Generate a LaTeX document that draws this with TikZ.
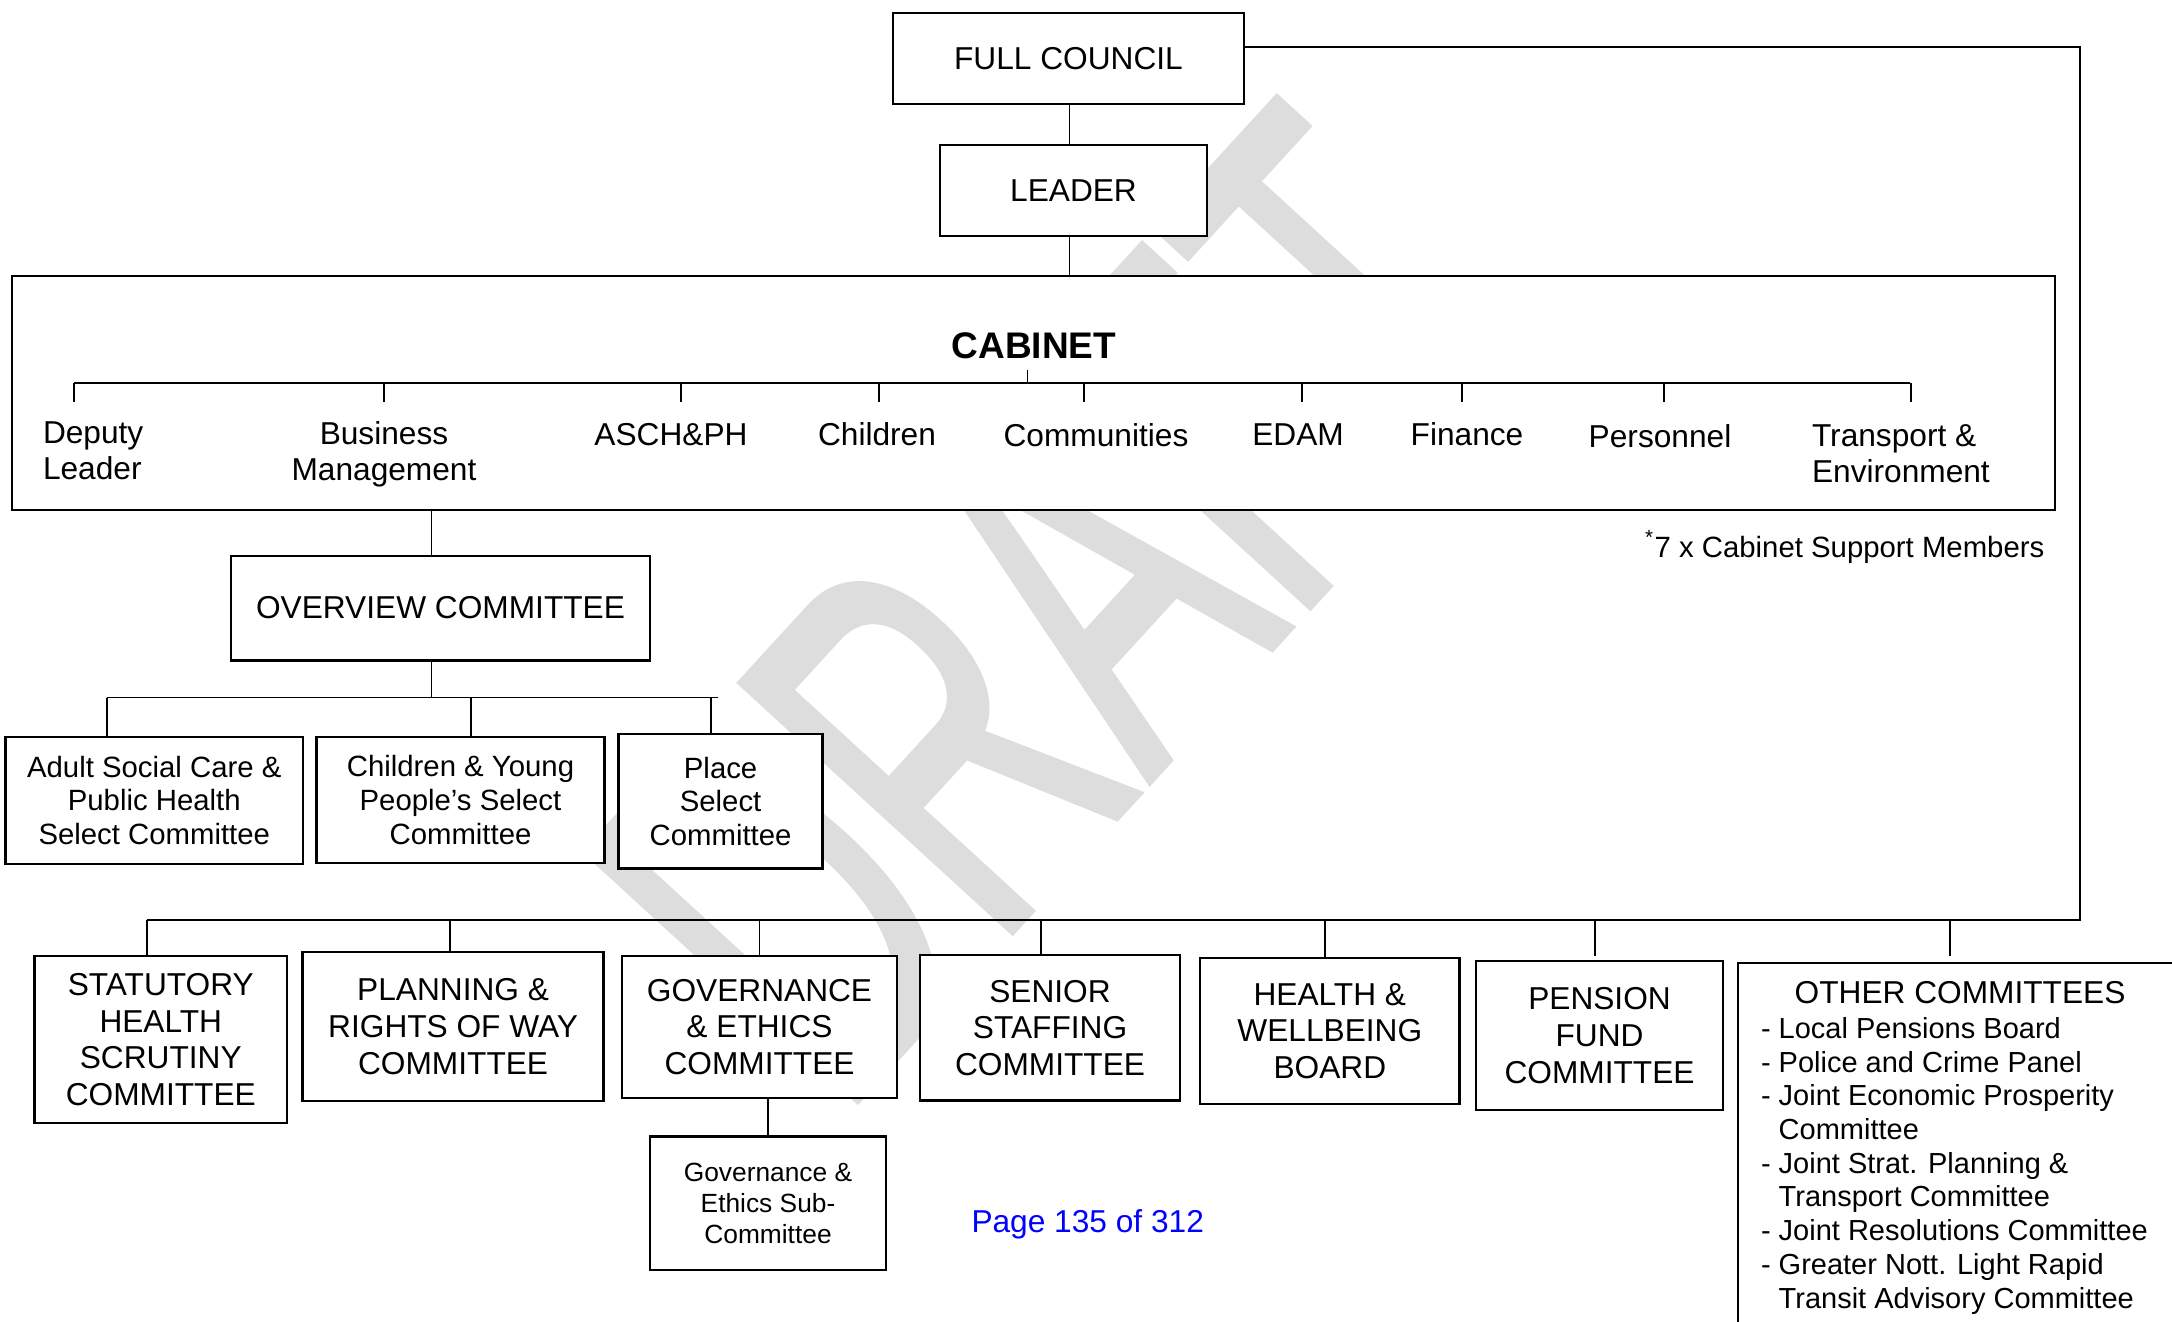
\documentclass[tikz,border=0pt]{standalone}
\usepackage{fontspec}
\setmainfont{Liberation Sans}
\newfontfamily\wmfont[FakeBold=1.5]{Liberation Sans}
\definecolor{wm}{RGB}{221,221,221}
\definecolor{pageblue}{RGB}{0,0,255}
\begin{document}
\begin{tikzpicture}[x=0.3pt,y=-0.3pt,
  every node/.style={inner sep=0pt, outer sep=0pt},
  box/.style={draw, line width=0.8pt, fill=white, align=center, font=\fontsize{9.5}{11}\selectfont},
  selbox/.style={box, font=\fontsize{8.8}{10.1}\selectfont},
  subbox/.style={box, font=\fontsize{7.9}{9.3}\selectfont},
  conn/.style={line width=0.4pt},
  lbl/.style={font=\fontsize{9.5}{10.95}\selectfont, anchor=base, align=center},
  lbll/.style={font=\fontsize{9.5}{10.95}\selectfont, anchor=base west, align=left},
]
\useasboundingbox (0,0) rectangle (2172,1322);
\fill[white] (0,0) rectangle (2172,1322);

% watermark
\node[text=wm, rotate=47.5, font=\wmfont\fontsize{160}{164}\selectfont] (wmk) at (1061,606) {\scalebox{0.595}[1]{DRAFT}};

% top boxes
\node[box, minimum width=105.3pt, minimum height=27.3pt] (fc) at (1068.5,58.5) {FULL COUNCIL};
\node[box, minimum width=80.1pt, minimum height=27.3pt] (ld) at (1073.5,190.5) {LEADER};
\node[box, minimum width=612.9pt, minimum height=70.2pt] (cab) at (1033.5,393) {};
\node[font=\fontsize{11.1}{13}\selectfont\bfseries] (cabt) at (1034,346) {CABINET};

% cabinet portfolios (base anchor = baseline of the last line)
\node[lbll] (dep) at (43,479.5) {Deputy\\Leader};
\node[lbl] (bm) at (384,480.5) {Business\\Management};
\node[lbl] (asch) at (671,446) {ASCH\&PH};
\node[lbl] (chi) at (877,446) {Children};
\node[lbl] (com) at (1096,446.5) {Communities};
\node[lbl] (edam) at (1298,446) {EDAM};
\node[lbl] (fin) at (1467,446) {Finance};
\node[lbl] (per) at (1660,447.5) {Personnel};
\node[lbll] (tr) at (1812,482.5) {Transport \&\\Environment};

\draw[conn] (74,383) -- (1910,383);
\draw[conn] (1027.6,370) -- (1027.6,383);
\foreach \x in {74,384,681,879,1084,1302,1462,1664,1911}
  \draw[conn] (\x,383) -- (\x,402);

\node[lbll, font=\fontsize{8.8}{10}\selectfont] (csm) at (1645,557.6) {\textsuperscript{*}7 x Cabinet Support Members};

% overview
\node[box, minimum width=125.7pt, minimum height=31.3pt] (ov) at (440.5,608) {OVERVIEW COMMITTEE};
\node[selbox, minimum width=89.25pt, minimum height=38.1pt] (asc) at (154.25,800.5) {Adult Social Care \&\\Public Health\\Select Committee};
\node[selbox, minimum width=86.4pt, minimum height=37.8pt] (cyp) at (460.5,800) {Children \& Young\\People’s Select\\Committee};
\node[selbox, minimum width=61.1pt, minimum height=40.4pt] (pl) at (720.6,801.3) {Place\\Select\\Committee};

% bottom row
\node[box, minimum width=75.7pt, minimum height=50.1pt] (st) at (160.8,1039.5) {STATUTORY\\HEALTH\\SCRUTINY\\COMMITTEE};
\node[box, minimum width=90.3pt, minimum height=44.7pt] (pr) at (453.1,1026.5) {PLANNING \&\\RIGHTS OF WAY\\COMMITTEE};
\node[box, minimum width=82.5pt, minimum height=42.6pt] (ge) at (759.5,1027) {GOVERNANCE\\\& ETHICS\\COMMITTEE};
\node[subbox, minimum width=70.8pt, minimum height=40pt] (ges) at (768,1203.3) {Governance \&\\Ethics Sub-\\Committee};
\node[box, minimum width=78pt, minimum height=43.65pt] (ss) at (1050,1027.8) {SENIOR\\STAFFING\\COMMITTEE};
\node[box, minimum width=77.9pt, minimum height=43.8pt] (hw) at (1329.8,1031) {HEALTH \&\\WELLBEING\\BOARD};
\node[box, minimum width=74.1pt, minimum height=44.7pt] (pf) at (1599.5,1035.5) {PENSION\\FUND\\COMMITTEE};
\node[box, minimum width=138.6pt, minimum height=119.1pt] (oc) at (1969,1161.5) {};
\node[font=\fontsize{9.5}{11}\selectfont, anchor=base] (oct) at (1960,1003.5) {OTHER COMMITTEES};
\node[font=\fontsize{8.7}{10.11}\selectfont, anchor=base west, align=left] (ocl) at (1761,1308)
  {- Local Pensions Board\\
   - Police and Crime Panel\\
   - Joint Economic Prosperity\\
   \hphantom{-~}Committee\\
   - Joint Strat. Planning \&\\
   \hphantom{-~}Transport Committee\\
   - Joint Resolutions Committee\\
   - Greater Nott. Light Rapid\\
   \hphantom{-~}Transit Advisory Committee};

\node[font=\fontsize{9.5}{11}\selectfont, text=pageblue, anchor=base west] (pg) at (971.5,1232.4) {Page 135 of 312};

% connectors
\coordinate (lx) at (1069.5,0);
\draw[conn] (lx |- fc.south) -- (lx |- ld.north);
\draw[conn] (lx |- ld.south) -- (lx |- cab.north);

\coordinate (fcr) at ([yshift=3.45pt]fc.east);
\coordinate (rb) at (2080,920);
\coordinate (bl) at (147,920);
\draw[conn] (fcr) -- (fcr -| rb) -- (rb) -- (bl);

\coordinate (ovx) at (431.4,697.8);
\draw[conn] (ovx |- cab.south) -- (ovx |- ov.north);
\draw[conn] (ovx |- ov.south) -- (ovx);
\coordinate (ovl) at (107,697.8);
\coordinate (ovr) at (718,697.8);
\draw[conn] (ovl) -- (ovr);
\foreach \x/\n in {107/asc,471/cyp,711/pl}{
  \coordinate (d) at (\x,697.8);
  \draw[conn] (d) -- (d |- \n.north);
}

\foreach \x/\n in {147/st,450/pr,759.6/ge,1041/ss,1325/hw}{
  \coordinate (d) at (\x,920);
  \draw[conn] (d) -- (d |- \n.north);
}
\coordinate (dpf) at (1595,920);
\draw[conn, shorten >=1.5pt] (dpf) -- (dpf |- pf.north);
\coordinate (doc) at (1950,920);
\draw[conn, shorten >=2pt] (doc) -- (doc |- oc.north);

\draw[conn] (ges.north |- ge.south) -- (ges.north);
\end{tikzpicture}
\end{document}
